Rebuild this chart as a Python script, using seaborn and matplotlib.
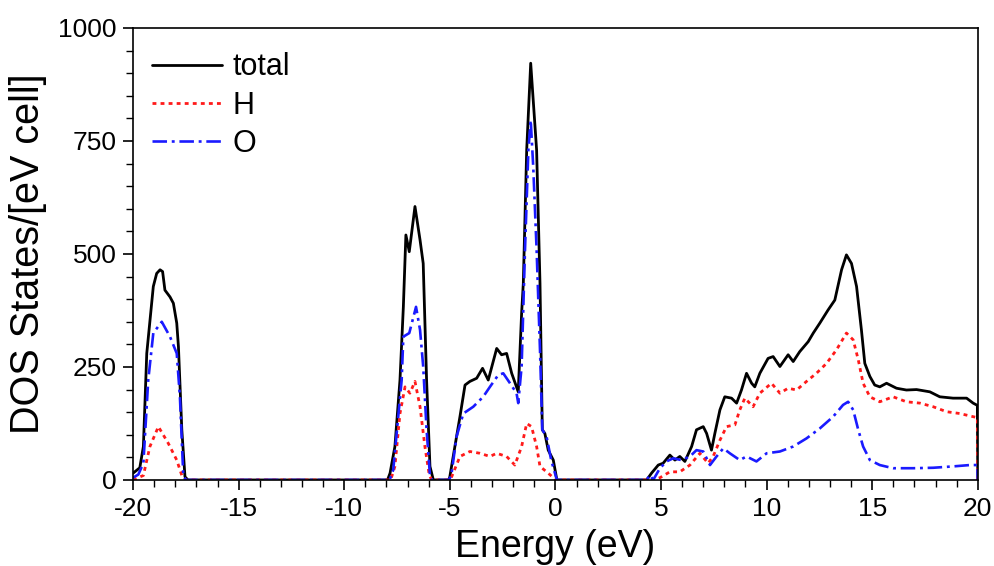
import numpy as np
import pandas as pd
import seaborn as sns
import matplotlib
matplotlib.use("Agg")
import matplotlib.pyplot as plt

# Energy grid and DOS values
energy_total = [-20.0, -19.68, -19.51, -19.35, -19.04, -18.88, -18.72, -18.6, -18.49, -18.25, -18.09,
                -17.93, -17.85, -17.69, -17.54, -17.4,
                -7.95, -7.83, -7.6, -7.36, -7.2, -7.08, -6.92, -6.65, -6.41, -6.26, -6.1, -5.94, -5.78,
                -5.05, -5.0, -4.76, -4.52, -4.28, -4.05, -3.73, -3.45, -3.18, -2.78, -2.55, -2.31, -2.07,
                -1.76, -1.6, -1.52, -1.36, -1.17, -0.89, -0.73, -0.62, -0.5, -0.34, -0.1, 0.07,
                4.32, 4.55, 4.87, 5.1, 5.42, 5.66, 5.89, 6.13, 6.45, 6.68, 7.0, 7.16, 7.39, 7.55, 7.79,
                8.02, 8.34, 8.58, 8.81, 9.05, 9.29, 9.44, 9.68, 10.07, 10.31, 10.63, 11.02, 11.26, 11.57,
                11.97, 12.21, 12.52, 12.91, 13.23, 13.55, 13.78, 14.02, 14.26, 14.49, 14.65, 14.89, 15.12,
                15.36, 15.68, 16.15, 16.62, 17.1, 17.73, 18.2, 18.83, 19.47, 19.78, 19.98, 20.0]
dos_total = [15, 27, 74, 280, 428, 457, 465, 461, 420, 405, 391,
             347, 295, 111, 7, 0,
             0, 15, 74, 221, 383, 542, 505, 605, 531, 479, 221, 30, 0,
             0, 7, 74, 140, 210, 218, 225, 247, 221, 291, 277, 280, 236,
             195, 369, 435, 730, 922, 730, 435, 111, 103, 66, 44, 0,
             0, 15, 33, 37, 55, 44, 52, 41, 74, 111, 118, 103, 66, 103, 155,
             184, 181, 170, 199, 236, 214, 206, 236, 269, 273, 251, 277, 262, 284,
             306, 325, 347, 376, 398, 465, 498, 479, 428, 332, 258, 229, 210,
             206, 214, 203, 199, 200, 195, 184, 181, 181, 170, 165, 0]

energy_h = [-20.0, -19.51, -19.2, -18.8, -18.33, -17.93, -17.69, -17.5,
            -7.8, -7.6, -7.36, -7.12, -6.89, -6.65, -6.41, -6.18, -5.97, -5.85,
            -5.05, -4.93, -4.52, -4.05, -3.57, -3.1, -2.78, -2.31, -1.92, -1.6, -1.36, -1.13,
            -0.89, -0.73, -0.34, -0.1, 0.05,
            4.6, 4.95, 5.42, 5.89, 6.37, 6.84, 7.23, 7.47, 7.79, 8.1, 8.5, 8.73, 8.97, 9.36, 9.68,
            10.23, 10.63, 11.02, 11.42, 11.89, 12.36, 12.84, 13.31, 13.78, 14.1, 14.34, 14.57, 14.89,
            15.36, 15.99, 16.62, 17.26, 17.89, 18.52, 19.15, 19.78, 19.98, 20.0]
dos_h = [0, 10, 74, 118, 81, 44, 10, 0,
         0, 30, 147, 206, 192, 218, 162, 74, 10, 0,
         0, 5, 52, 63, 59, 52, 59, 52, 33, 74, 125, 118,
         74, 30, 15, 5, 0,
         0, 5, 18, 18, 33, 59, 37, 52, 88, 118, 122, 155, 181, 162, 192,
         214, 192, 203, 199, 218, 236, 258, 288, 325, 310, 266, 214, 184,
         173, 184, 173, 170, 162, 151, 147, 140, 138, 0]

energy_o = [-20.0, -19.75, -19.51, -19.28, -19.04, -18.64, -18.25, -17.93, -17.78, -17.62, -17.5,
            -7.85, -7.68, -7.28, -7.2, -6.92, -6.6, -6.41, -6.26, -6.1, -5.94, -5.85,
            -5.05, -4.93, -4.68, -4.36, -3.89, -3.42, -3.1, -2.71, -2.47, -2.15, -1.84, -1.76,
            -1.6, -1.44, -1.28, -1.17, -1.05, -0.89, -0.73, -0.62, -0.42, -0.2, 0.07,
            4.32, 4.47, 4.63, 4.95, 5.26, 5.58, 5.97, 6.37, 6.68, 7.0, 7.32, 7.63, 7.95, 8.26, 8.73,
            9.05, 9.52, 10.0, 10.63, 11.26, 11.89, 12.52, 13.15, 13.62, 13.86, 14.1, 14.34, 14.57,
            14.89, 15.36, 15.99, 16.94, 17.89, 18.83, 19.62, 19.98, 20.0]
dos_o = [5, 12, 37, 221, 325, 350, 317, 280, 184, 10, 0,
         0, 22, 221, 317, 325, 383, 332, 251, 111, 10, 0,
         0, 10, 96, 147, 162, 184, 206, 232, 236, 214, 192, 170,
         251, 509, 730, 796, 693, 509, 288, 111, 96, 44, 0,
         0, 11, 0, 26, 41, 48, 44, 52, 66, 63, 33, 52, 70, 59, 44,
         52, 41, 59, 63, 74, 92, 114, 140, 166, 173, 155, 111, 74,
         44, 33, 26, 26, 27, 30, 33, 33, 0]

series_labels = ["total", "H", "O"]
x_ticks = [-20, -15, -10, -5, 0, 5, 10, 15, 20]
y_ticks = [0, 250, 500, 750, 1000]

sns.set_style("ticks")
plt.rcParams["font.family"] = ["Liberation Sans", "DejaVu Sans"]
plt.rcParams["axes.unicode_minus"] = False
plt.rcParams["text.color"] = "black"
plt.rcParams["axes.labelcolor"] = "black"
plt.rcParams["xtick.color"] = "black"
plt.rcParams["ytick.color"] = "black"

fig = plt.figure(figsize=(9.95, 5.66), dpi=100)
ax = fig.add_axes([0.1337, 0.152, 0.849, 0.7986])

sns.lineplot(x=energy_total, y=dos_total, ax=ax, color="black", lw=2.0,
             estimator=None, sort=False, label=series_labels[0])
sns.lineplot(x=energy_h, y=dos_h, ax=ax, color="#ff1a1a", lw=2.0, linestyle=(0, (1.4, 1.5)),
             estimator=None, sort=False, label=series_labels[1])
sns.lineplot(x=energy_o, y=dos_o, ax=ax, color="#1a1aff", lw=1.9, linestyle=(0, (5.5, 1.8, 1.1, 1.8)),
             estimator=None, sort=False, label=series_labels[2])

ax.set_xlim(-20, 20)
ax.set_ylim(0, 1000)
ax.set_xticks(x_ticks)
ax.set_yticks(y_ticks)
ax.set_xticks(np.arange(-20, 21, 1), minor=True)
ax.set_yticks(np.arange(0, 1001, 50), minor=True)
ax.tick_params(axis="both", which="major", direction="out", length=7, width=1.2,
               labelsize=19, pad=5)
ax.tick_params(axis="both", which="minor", direction="out", length=5, width=1.0)
for side in ["top", "right", "left", "bottom"]:
    ax.spines[side].set_visible(True)
    ax.spines[side].set_linewidth(1.2)
    ax.spines[side].set_color("black")

ax.set_xlabel("Energy (eV)", fontsize=27, labelpad=6)
ax.set_ylabel("DOS States/[eV cell]", fontsize=28.5, labelpad=8)

ax.legend(loc="upper left", bbox_to_anchor=(0.022, 0.946), frameon=False, fontsize=22,
          handlelength=2.3, handletextpad=0.35, labelspacing=0.27, borderpad=0, borderaxespad=0)

fig.savefig("out.png", dpi=100)
